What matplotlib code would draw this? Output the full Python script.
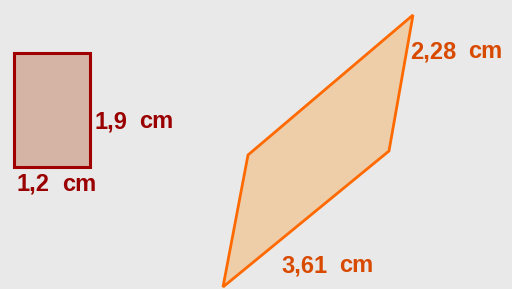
import matplotlib
matplotlib.use("Agg")
import matplotlib.pyplot as plt
from matplotlib.patches import Polygon

# shape vertices (pixel coords, y down)
rect_x = [14, 90, 90, 14]
rect_y = [53, 53, 167, 167]
para_x = [413, 389, 223, 248]
para_y = [15, 151, 287, 155]

labels = ["1,9 cm", "1,2 cm", "2,28 cm", "3,61 cm"]
label_x = [94, 17, 410, 281]
label_y = [128, 191, 58, 272]   # baselines

BG = "#e9e9e9"
RECT_FILL = "#d5b4a6"
RECT_EDGE = "#a10000"
PARA_FILL = "#eecda9"
PARA_EDGE = "#ff6a00"

fig = plt.figure(figsize=(5.12, 2.89), dpi=100, facecolor=BG)
ax = fig.add_axes([0, 0, 1, 1])
ax.set_facecolor(BG)
ax.set_xlim(0, 512)
ax.set_ylim(289, 0)
ax.axis('off')

ax.add_patch(Polygon(list(zip(rect_x, rect_y)), closed=True,
                     facecolor=RECT_FILL, edgecolor=RECT_EDGE, linewidth=2.2))
ax.add_patch(Polygon(list(zip(para_x, para_y)), closed=True,
                     facecolor=PARA_FILL, edgecolor=PARA_EDGE, linewidth=2.0))

colors = ["#9a0000", "#9a0000", "#d84a00", "#d84a00"]
for txt, x, y, c in zip(labels, label_x, label_y, colors):
    num, unit = txt.split(" ")
    t = ax.text(x, y, num, color=c, fontsize=17, fontweight='bold',
                family='Liberation Sans', ha='left', va='baseline')
    # unit placed with the wider gap seen in the picture
    ax.annotate(unit, xy=(1, 0), xycoords=t, xytext=(12, 0),
                textcoords='offset pixels', color=c, fontsize=17,
                fontweight='bold', family='Liberation Sans',
                ha='left', va='bottom')

fig.savefig("out.png", dpi=100, facecolor=BG)
